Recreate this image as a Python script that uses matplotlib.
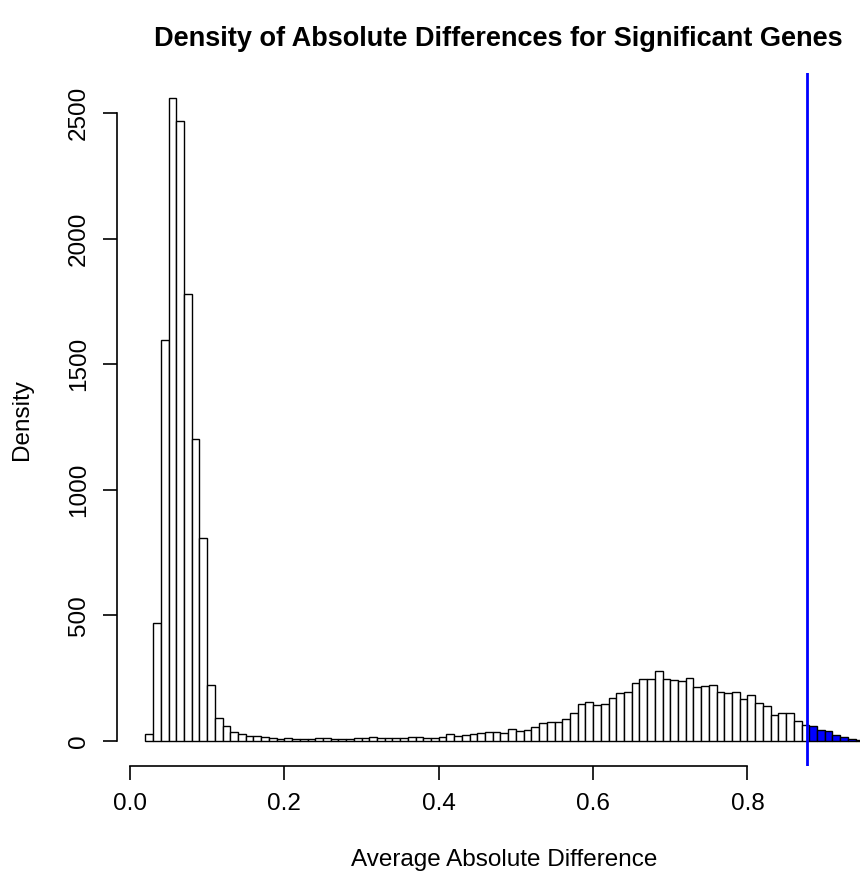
import matplotlib
matplotlib.use("Agg")
import matplotlib.pyplot as plt
import numpy

# histogram: left bin edges (width 0.01) and densities
bin_width = 0.01
bin_lefts = numpy.round(numpy.arange(0.02, 0.95, bin_width), 2)
densities = [26, 469, 1597, 2559, 2467, 1780, 1201, 809, 221, 89,
             57, 34, 28, 19, 19, 15, 11, 6, 11, 8,
             8, 8, 11, 11, 8, 5, 8, 11, 12, 16,
             10, 12, 10, 12, 14, 15, 12, 10, 14, 26,
             18, 23, 27, 31, 35, 35, 30, 46, 38, 41,
             53, 69, 73, 73, 86, 112, 145, 153, 143, 145,
             171, 190, 193, 228, 246, 246, 276, 246, 243, 236,
             250, 215, 218, 222, 193, 189, 193, 166, 182, 151,
             138, 102, 109, 112, 80, 62, 58, 41, 37, 24,
             13, 8, 4]
cutoff = 0.877
x_ticks = [0.0, 0.2, 0.4, 0.6, 0.8]
y_ticks = [0, 500, 1000, 1500, 2000, 2500]

title = "Density of Absolute Differences for Significant Genes"
xlabel = "Average Absolute Difference"
ylabel = "Density"

plt.rcParams['font.family'] = ['Liberation Sans', 'DejaVu Sans']

W, H = 860, 876
fig = plt.figure(figsize=(W / 100, H / 100), dpi=100)
# R-like plot region (4% padding around data range), runs past the right edge
left, right, bottom, top = 116.7, 892.0, 766.4, 72.5
ax = fig.add_axes([left / W, 1 - bottom / H, (right - left) / W, (bottom - top) / H])

colors = ["blue" if edge >= cutoff else "white" for edge in bin_lefts]
ax.bar(bin_lefts, densities, width=bin_width, align="edge",
       color=colors, edgecolor="black", linewidth=1.0, zorder=2)
ax.axvline(cutoff, color="blue", linewidth=2.0, zorder=3)

span = bin_lefts[-1] + bin_width - bin_lefts[0]
ax.set_xlim(bin_lefts[0] - 0.04 * span, bin_lefts[-1] + bin_width + 0.04 * span)
ax.set_ylim(-0.04 * max(densities), 1.04 * max(densities))

for side in ["top", "right"]:
    ax.spines[side].set_visible(False)
ax.spines["bottom"].set_bounds(x_ticks[0], x_ticks[-1])
ax.spines["left"].set_bounds(y_ticks[0], y_ticks[-1])
for side in ["bottom", "left"]:
    ax.spines[side].set_linewidth(1.2)

ax.set_xticks(x_ticks)
ax.set_xticklabels(["%.1f" % t for t in x_ticks])
ax.set_yticks(y_ticks)
ax.set_yticklabels([str(t) for t in y_ticks], rotation=90, va="center")
ax.tick_params(length=10.4, width=1.2, labelsize=17.5, pad=9)

# axis titles centred on the plot region, as R does
ax.set_xlabel(xlabel, fontsize=17.5)
ax.xaxis.set_label_coords(0.5, -(860 - bottom) / (bottom - top))
ax.xaxis.label.set_va("center")
ax.set_ylabel(ylabel, fontsize=17.5)
ax.yaxis.set_label_coords(-(left - 22) / (right - left), 0.5)
ax.yaxis.label.set_va("center")

fig.text(498 / W, 1 - 39 / H, title, ha="center", va="center",
         fontsize=19.5, fontweight="bold")

fig.savefig("out.png", dpi=100)
